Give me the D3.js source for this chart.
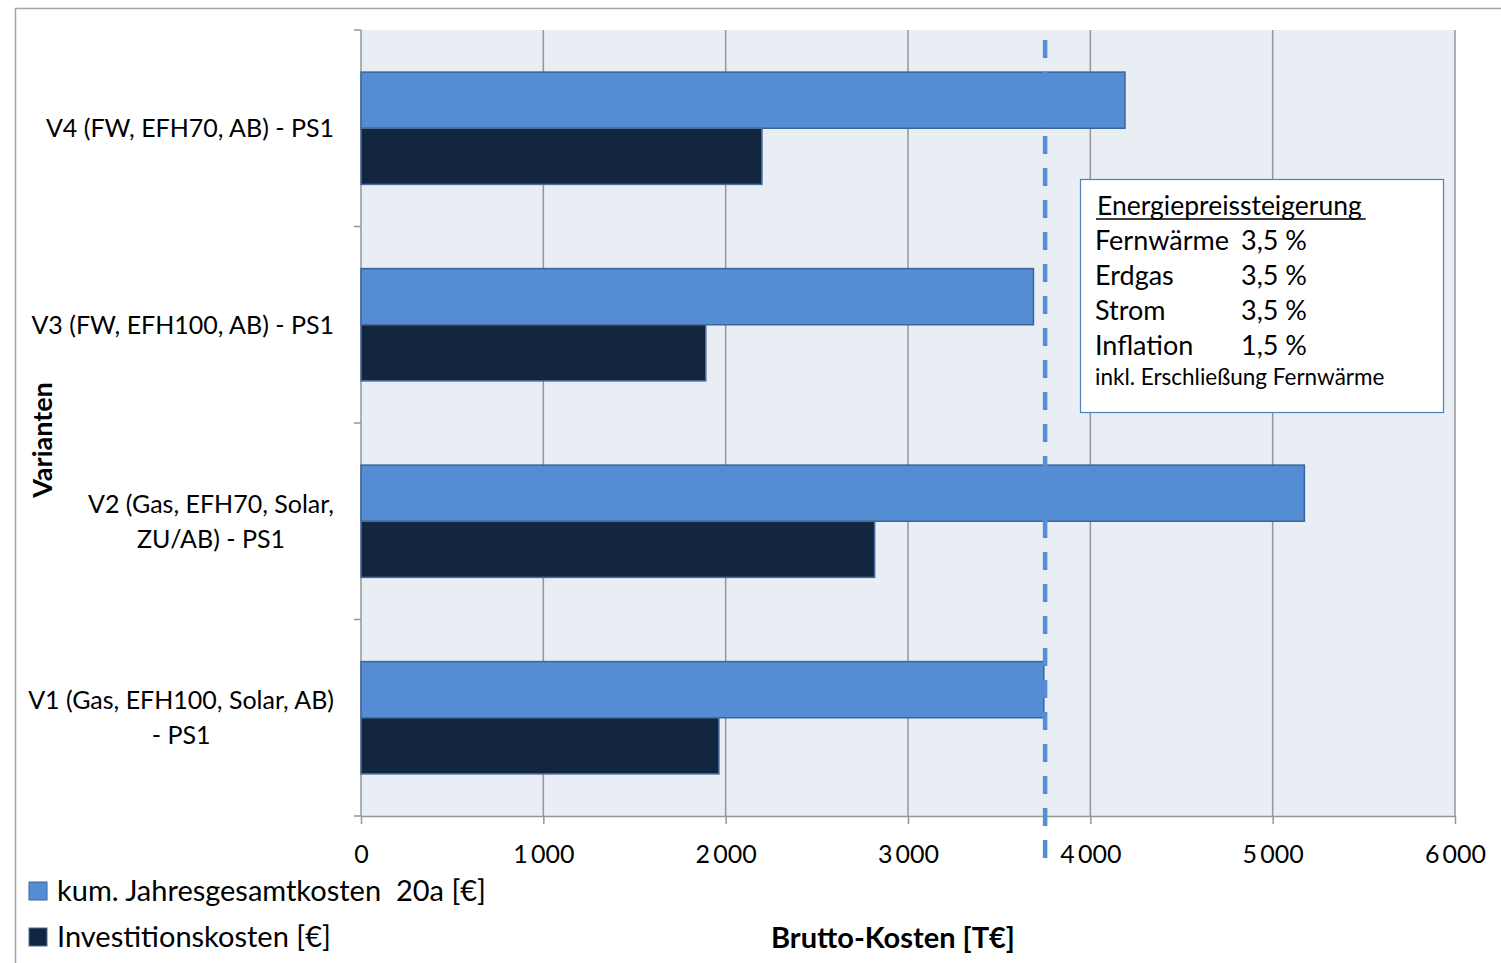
<!DOCTYPE html>
<html>
<head>
<meta charset="utf-8">
<script src="https://cdn.jsdelivr.net/npm/d3@7/dist/d3.min.js"></script>
<style>
  html, body { margin: 0; padding: 0; background: #fff; }
  svg { display: block; font-family: Lato, "Open Sans", sans-serif; }
</style>
</head>
<body>
<svg id="chart" width="1501" height="963"></svg>
<script>
// Variants (top to bottom), each label split into display lines
const categories = ["V4", "V3", "V2", "V1"];
const categoryLabels = [
  ["V4 (FW, EFH70, AB) - PS1"],
  ["V3 (FW, EFH100, AB) - PS1"],
  ["V2 (Gas, EFH70, Solar,", "ZU/AB) - PS1"],
  ["V1 (Gas, EFH100, Solar, AB)", "- PS1"]
];
// Gross costs in T€
const seriesNames = ["kum. Jahresgesamtkosten  20a [€]", "Investitionskosten [€]"];
const totalCosts = [4190, 3688, 5174, 3745];
const investmentCosts = [2199, 1891, 2817, 1963];
const referenceValue = 3752;
const xTicks = [0, 1000, 2000, 3000, 4000, 5000, 6000];
const boxTitle = "Energiepreissteigerung";
const boxRows = [["Fernwärme", "3,5 %"], ["Erdgas", "3,5 %"], ["Strom", "3,5 %"], ["Inflation", "1,5 %"]];
const boxNote = "inkl. Erschließung Fernwärme";

const colors = ["#548DD4", "#132640"];
const strokes = ["#3A659B", "#4A6C9C"];

const svg = d3.select("#chart");
const plot = { left: 361, right: 1455, top: 30, bottom: 816 };

// outer frame (top and left edges)
svg.append("path")
  .attr("d", "M15.5,963 V8.5 H1501")
  .attr("fill", "none").attr("stroke", "#A6A6A6").attr("stroke-width", 1.5);

const x = d3.scaleLinear().domain([0, 6000]).range([plot.left, plot.right]);
const y = d3.scaleBand().domain(categories).range([plot.top, plot.bottom]);
const inner = d3.scaleBand().domain([0, 1]).range([0, y.bandwidth()]).paddingOuter(0.75).paddingInner(0);

// plot background
svg.append("rect")
  .attr("x", plot.left).attr("y", plot.top)
  .attr("width", plot.right - plot.left).attr("height", plot.bottom - plot.top)
  .attr("fill", "#E9EDF4");

// vertical gridlines
svg.append("g").selectAll("line").data(xTicks.slice(1)).join("line")
  .attr("x1", d => x(d)).attr("x2", d => x(d))
  .attr("y1", plot.top).attr("y2", plot.bottom)
  .attr("stroke", "#969696").attr("stroke-width", 1.5);

// x axis
const xAxis = svg.append("g")
  .attr("transform", `translate(0,${plot.bottom})`)
  .call(d3.axisBottom(x).tickValues(xTicks).tickSize(8).tickSizeOuter(0)
    .tickFormat(d => d3.format(",")(d).replace(/,/g, "\u2009")));
xAxis.select(".domain").attr("stroke", "#969696").attr("stroke-width", 1.5);
xAxis.selectAll(".tick line").attr("stroke", "#969696").attr("stroke-width", 1.5);
xAxis.selectAll(".tick text")
  .attr("y", 38).attr("dy", "0.35em").attr("fill", "#000")
  .style("font-size", "25px").style("font-family", "Lato, sans-serif");

// y axis line with category boundary ticks
const yEdges = categories.map(c => y(c)).concat([plot.bottom]);
svg.append("line")
  .attr("x1", plot.left).attr("x2", plot.left)
  .attr("y1", plot.top).attr("y2", plot.bottom)
  .attr("stroke", "#969696").attr("stroke-width", 1.5);
svg.append("g").selectAll("line").data(yEdges).join("line")
  .attr("x1", plot.left - 7).attr("x2", plot.left)
  .attr("y1", d => d).attr("y2", d => d)
  .attr("stroke", "#969696").attr("stroke-width", 1.5);

// bars
const seriesData = [totalCosts, investmentCosts];
seriesData.forEach((vals, si) => {
  svg.append("g").selectAll("rect").data(vals).join("rect")
    .attr("x", x(0))
    .attr("y", (d, i) => y(categories[i]) + inner(si))
    .attr("width", d => x(d) - x(0))
    .attr("height", inner.bandwidth())
    .attr("fill", colors[si])
    .attr("stroke", strokes[si]).attr("stroke-width", 1.5);
});

// dashed reference line
svg.append("line")
  .attr("x1", x(referenceValue)).attr("x2", x(referenceValue))
  .attr("y1", 40).attr("y2", 858)
  .attr("stroke", "#558ED5").attr("stroke-width", 4.5)
  .attr("stroke-dasharray", "18 14");

// category labels (multi-line, centred block right-aligned against the axis)
const labelRight = 334, lineH = 35;
categoryLabels.forEach((lines, i) => {
  const cy = y(categories[i]) + y.bandwidth() / 2;
  const t = svg.append("text")
    .style("font-size", "25px").attr("fill", "#000");
  lines.forEach((ln, k) => {
    t.append("tspan").text(ln)
      .attr("y", cy + (k - (lines.length - 1) / 2) * lineH)
      .attr("dy", "0.35em");
  });
  const widths = [];
  t.selectAll("tspan").each(function () { widths.push(this.getComputedTextLength()); });
  const maxW = d3.max(widths);
  const centre = labelRight - maxW / 2;
  t.selectAll("tspan").attr("x", centre).attr("text-anchor", "middle");
});

// y axis title
svg.append("text")
  .attr("transform", "translate(43,440) rotate(-90)")
  .attr("text-anchor", "middle").attr("dy", "0.35em")
  .style("font-size", "27px").style("font-weight", "bold")
  .text("Varianten");

// x axis title
svg.append("text")
  .attr("x", 893).attr("y", 938).attr("dy", "0.35em")
  .attr("text-anchor", "middle")
  .style("font-size", "29px").style("font-weight", "bold")
  .text("Brutto-Kosten [T€]");

// legend
const legend = svg.append("g");
seriesNames.forEach((name, i) => {
  const ly = 891 + i * 46;
  legend.append("rect")
    .attr("x", 29).attr("y", ly - 9).attr("width", 18).attr("height", 18)
    .attr("fill", colors[i]).attr("stroke", strokes[i]).attr("stroke-width", 1);
  legend.append("text")
    .attr("x", 57).attr("y", ly).attr("dy", "0.35em")
    .style("font-size", "29px").style("white-space", "pre")
    .attr("xml:space", "preserve")
    .text(name);
});

// annotation box
const box = svg.append("g");
box.append("rect")
  .attr("x", 1080.5).attr("y", 179.5).attr("width", 363).attr("height", 233)
  .attr("fill", "#fff").attr("stroke", "#4F81BD").attr("stroke-width", 1.2);
const title = box.append("text")
  .attr("x", 1097).attr("y", 206).attr("dy", "0.35em")
  .style("font-size", "26.5px").text(boxTitle);
const tw = title.node().getComputedTextLength();
box.append("line")
  .attr("x1", 1096).attr("x2", 1097 + tw + 4)
  .attr("y1", 219).attr("y2", 219)
  .attr("stroke", "#000").attr("stroke-width", 1.5);
boxRows.forEach((r, i) => {
  const ry = 241 + i * 34.7;
  box.append("text").attr("x", 1095).attr("y", ry).attr("dy", "0.35em")
    .style("font-size", "27px").text(r[0]);
  box.append("text").attr("x", 1241).attr("y", ry).attr("dy", "0.35em")
    .style("font-size", "27px").text(r[1]);
});
box.append("text").attr("x", 1095).attr("y", 377).attr("dy", "0.35em")
  .style("font-size", "22.5px").text(boxNote);
</script>
</body>
</html>
